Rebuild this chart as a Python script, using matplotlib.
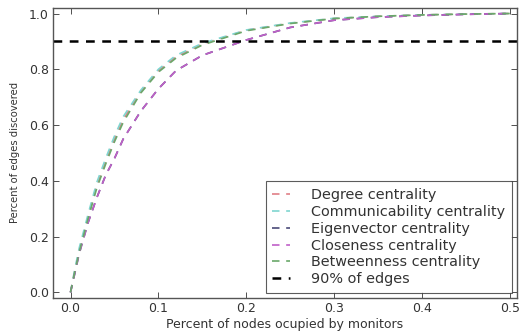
import matplotlib
matplotlib.use("Agg")
import matplotlib.pyplot as plt
import numpy as np

# Fraction of nodes occupied by monitors
frac_nodes = [0.0, 0.005, 0.01, 0.02, 0.03, 0.04, 0.05, 0.06, 0.08, 0.10,
              0.12, 0.15, 0.20, 0.25, 0.30, 0.35, 0.40, 0.45, 0.50]

# Fraction of edges discovered for each placement strategy
degree = [0.0, 0.08, 0.15, 0.27, 0.385, 0.47, 0.55, 0.62, 0.72, 0.795,
          0.845, 0.89, 0.94, 0.965, 0.982, 0.99, 0.995, 0.998, 1.0]
communicability = [0.0, 0.085, 0.16, 0.28, 0.395, 0.48, 0.56, 0.63, 0.725, 0.80,
                   0.85, 0.893, 0.941, 0.966, 0.983, 0.99, 0.995, 0.998, 1.0]
eigenvector = [0.0, 0.07, 0.14, 0.25, 0.34, 0.42, 0.48, 0.55, 0.65, 0.73,
               0.795, 0.85, 0.905, 0.95, 0.976, 0.987, 0.993, 0.997, 1.0]
closeness = [0.0, 0.07, 0.14, 0.25, 0.34, 0.42, 0.48, 0.55, 0.65, 0.73,
             0.795, 0.85, 0.905, 0.95, 0.976, 0.987, 0.993, 0.997, 1.0]
betweenness = [0.0, 0.075, 0.145, 0.265, 0.375, 0.46, 0.54, 0.61, 0.715, 0.79,
               0.84, 0.887, 0.938, 0.964, 0.982, 0.99, 0.995, 0.998, 1.0]
threshold = 0.9

series = [
    ("Degree centrality", degree, "#e07f86"),
    ("Communicability centrality", communicability, "#7fd6d0"),
    ("Eigenvector centrality", eigenvector, "#4a4a78"),
    ("Closeness centrality", closeness, "#c060c8"),
    ("Betweenness centrality", betweenness, "#6aa86a"),
]

fig = plt.figure(figsize=(5.19, 3.31), dpi=100)
ax = fig.add_axes([0.102, 0.10, 0.894, 0.876])

for label, vals, color in series:
    ax.plot(frac_nodes, vals, linestyle="--", dashes=(4.5, 4), color=color,
            lw=1.2, label=label)
ax.axhline(threshold, color="black", linestyle="--", dashes=(3.5, 3), lw=1.8,
           label="90% of edges")

ax.set_xlim(-0.02, 0.508)
ax.set_ylim(-0.02, 1.02)
ax.set_xticks([0.0, 0.1, 0.2, 0.3, 0.4, 0.5])
ax.set_yticks([0.0, 0.2, 0.4, 0.6, 0.8, 1.0])
ax.tick_params(direction="in", top=True, right=True, labelsize=9,
               length=4, width=0.6, pad=3, colors="#333333",
               labelcolor="#333333")
for s in ax.spines.values():
    s.set_color("#555555")
    s.set_linewidth(1.0)

ax.set_xlabel("Percent of nodes ocupied by monitors", fontsize=9,
              color="#333333", labelpad=2)
ax.set_ylabel("Percent of edges discovered", fontsize=7.2, color="#333333",
              labelpad=6)

leg = ax.legend(loc="lower right", fontsize=10.4, frameon=True, fancybox=False,
                handlelength=1.25, labelspacing=0.2, borderaxespad=0.35,
                handletextpad=1.45, borderpad=0.45)
leg.get_frame().set_edgecolor("#333333")
leg.get_frame().set_linewidth(0.8)
for t in leg.get_texts():
    t.set_color("#333333")

fig.savefig("out.png", dpi=100)
